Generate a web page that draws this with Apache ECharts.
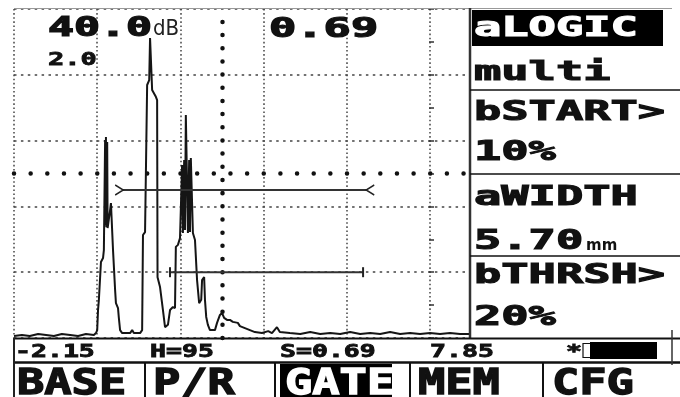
<!DOCTYPE html>
<html><head><meta charset="utf-8">
<script src="https://cdn.jsdelivr.net/npm/echarts@6/dist/echarts.min.js"></script>
<style>html,body{margin:0;padding:0;background:#fff}#c{width:680px;height:397px}</style>
</head><body><div id="c"></div>
<script>
// ---- data (x: % of screen width, amplitude: % full screen height) ----
const tracePos = [0,1.9,3.8,5.8,7.7,9.6,11.5,13.5,15.4,17.3,19.2,19.7,20.0,20.2,20.4,20.9,21.4,21.6,21.9,22.0,22.1,22.2,22.4,22.5,22.6,23.1,23.3,23.6,23.8,24.3,24.5,25.0,25.2,25.5,26.0,27.9,28.4,28.8,30.3,30.8,31.0,31.5,31.7,32.0,32.5,32.7,32.9,33.2,34.1,34.4,34.5,35.1,35.8,36.3,37.0,37.5,38.2,38.7,38.9,39.4,39.9,40.4,40.6,40.9,41.1,41.3,41.6,41.8,42.1,42.3,42.5,42.8,43.0,43.5,44.0,44.5,45.0,45.2,45.7,45.9,46.2,46.6,47.1,48.3,48.8,49.5,50.0,50.5,51.2,51.9,52.6,53.8,54.3,55.5,56.7,57.9,59.6,61.1,62.0,63.2,63.9,66.3,68.8,71.2,73.6,76.0,78.4,80.8,83.2,85.6,88.0,90.4,92.8,95.2,97.6,100.0,102.4,104.8,107.2,109.6];
const traceAmp = [0.6,0.9,0.6,1.2,0.9,0.6,1.2,0.9,0.6,1.2,0.9,1.5,2.4,8.5,11.6,23.1,24.3,26.7,60.2,34.3,61.1,33.7,59.6,33.4,34.3,38.9,41.0,40.4,26.7,14.6,10.6,9.1,6.1,2.4,1.5,1.5,2.4,1.5,1.5,2.4,31.3,32.2,32.2,76.9,78.4,91.2,91.2,75.4,73.3,72.3,18.5,15.5,8.5,3.3,4.0,8.5,9.4,9.1,27.7,28.3,30.4,52.6,31.9,54.1,32.8,67.8,68.4,31.9,54.1,32.2,54.7,54.7,31.9,29.8,17.6,10.6,11.6,17.6,18.5,11.6,6.4,4.0,2.4,2.4,4.6,7.0,7.6,6.1,5.5,5.5,4.9,4.6,3.6,3.0,2.4,1.8,1.5,2.1,1.5,3.3,1.8,1.5,1.2,1.8,1.2,1.5,1.2,1.8,1.2,1.5,1.2,1.8,1.2,1.5,1.2,1.5,1.2,1.5,1.2,1.2];
const gateAPos = [26.0, 84.9];
const gateALevel = 45;
const gateBPos = [37.5, 83.9];
const gateBLevel = 20;
const xMax = 109.6;
const centerPos = 50;
const centerAmp = 50;

// ---- text ----
const gainText = '40.0';
const gainUnit = 'dB';
const stepText = '2.0';
const readingText = '0.69';
const panelLabels = ['aLOGIC', 'multi', 'bSTART>', '10%', 'aWIDTH', '5.70', 'bTHRSH>', '20%'];
const widthUnit = 'mm';
const statusLabels = ['-2.15', 'H=95', 'S=0.69', '7.85', '*'];
const menuLabels = ['BASE', 'P/R', 'GATE', 'MEM', 'CFG'];

// ---- layout ----
const FONT = '"DejaVu Sans Mono"';
function T(text, left, base, fs, sx, fill, sw) {
  const f = fill || '#111';
  return {
    type: 'text', x: left, y: base - 0.32 * fs, scaleX: sx, z: 100, silent: true,
    style: { text: text, font: 'bold ' + fs + 'px ' + FONT, fill: f, stroke: f, lineWidth: sw == null ? 0.9 : sw,
      textAlign: 'left', align: 'left', textVerticalAlign: 'middle', verticalAlign: 'middle' }
  };
}
function L(x1, y1, x2, y2, w, c) {
  return { type: 'line', z: 90, silent: true, shape: { x1: x1, y1: y1, x2: x2, y2: y2 }, style: { stroke: c || '#111', lineWidth: w } };
}
function R(x, y, w, h, fill, z) {
  return { type: 'rect', z: z || 95, silent: true, shape: { x: x, y: y, width: w, height: h }, style: { fill: fill } };
}

const panelBase = [38, 82, 122, 162, 207, 251, 285, 327];
const statusLeft = [15, 150, 280, 430, 566];
const menuLeft = [17, 153, 285, 418, 552];

const graphics = [];
// frame lines
graphics.push(L(14, 8.5, 672, 8.5, 1, '#999'));
graphics.push(L(470, 8, 470, 338, 2.5, '#333'));
graphics.push(L(14, 338.5, 680, 338.5, 2, '#111'));
graphics.push(L(14, 362.5, 680, 362.5, 2.5, '#111'));
graphics.push(L(14, 338, 14, 397, 2, '#222'));
graphics.push(L(672, 330, 672, 365, 1.5, '#333'));
[90, 174, 256].forEach(y => graphics.push(L(470, y, 680, y, 1.5, '#111')));
[145, 275, 410, 543].forEach(x => graphics.push(L(x, 362, x, 397, 2, '#111')));
// inverted boxes
graphics.push(R(472, 10, 191, 36, '#000'));
graphics.push(R(280, 364, 112, 33, '#000'));
// battery
graphics.push({ type: 'rect', z: 95, silent: true, shape: { x: 583, y: 343.5, width: 8, height: 14 }, style: { fill: '#fff', stroke: '#111', lineWidth: 1.2 } });
graphics.push(R(590, 342, 67, 17, '#000'));
// header texts
graphics.push(T(gainText, 48, 38, 26, 1.66, '#111', 1.2));
graphics.push({ type: 'text', x: 153, y: 29, z: 100, silent: true, style: { text: gainUnit, font: '22px "DejaVu Sans Condensed"', fill: '#222', textAlign: 'left', align: 'left', textVerticalAlign: 'middle', verticalAlign: 'middle' } });
graphics.push(T(stepText, 48, 66, 18, 1.5, '#111', 0.8));
graphics.push(T(readingText, 269, 39, 27, 1.68, '#111', 1.2));
// right panel
panelLabels.forEach((t, i) => graphics.push(T(t, 474, panelBase[i], 27, 1.68, i === 0 ? '#fff' : '#111', 1.1)));
graphics.push({ type: 'text', x: 586, y: 246, z: 100, silent: true, style: { text: widthUnit, font: 'bold 15px "DejaVu Sans"', fill: '#111', textAlign: 'left', align: 'left', textVerticalAlign: 'middle', verticalAlign: 'middle' } });
// status row
statusLabels.forEach((t, i) => graphics.push(T(t, statusLeft[i], 358, 17, 1.56, '#111', 0.8)));
// menu row
menuLabels.forEach((t, i) => graphics.push(T(t, menuLeft[i], 396, 36, 1.26, i === 2 ? '#fff' : '#111', 1.4)));

const chart = echarts.init(document.getElementById('c'), null, { renderer: 'canvas' });
const hidden = { axisLine: { show: false }, axisTick: { show: false }, axisLabel: { show: false } };
chart.setOption({
  animation: false,
  backgroundColor: '#fff',
  grid: { left: 14, top: 9, width: 456, height: 329 },
  xAxis: [Object.assign({ type: 'value', min: 0, max: xMax, interval: 20,
    splitLine: { show: true, lineStyle: { color: '#444', width: 1.5, type: [1.6, 2.5] } } }, hidden)],
  yAxis: [
    Object.assign({ type: 'value', min: 0, max: 100, interval: 20,
      splitLine: { show: true, lineStyle: { color: '#444', width: 1.5, type: [2.5, 4.4] } } }, hidden),
    { type: 'value', min: 0, max: 100, interval: 10, position: 'right', offset: -41,
      axisLine: { show: false }, axisLabel: { show: false }, splitLine: { show: false },
      axisTick: { show: true, inside: false, length: 5, lineStyle: { color: '#333', width: 1.5 } } }
  ],
  graphic: { elements: graphics },
  series: [
    {
      type: 'line', name: 'A-scan', z: 5, symbol: 'none', clip: true,
      data: tracePos.map((x, i) => [x, traceAmp[i]]),
      lineStyle: { color: '#151515', width: 2 },
      markLine: {
        silent: true, symbol: 'none', label: { show: false },
        data: [
          { xAxis: centerPos, lineStyle: { color: '#111', width: 4.5, type: [0.01, 13.16], cap: 'round' } },
          { yAxis: centerAmp, lineStyle: { color: '#111', width: 4.5, type: [0.01, 16.64], cap: 'round' } }
        ]
      }
    },
    {
      type: 'line', name: 'gate a', z: 6, silent: true,
      data: [
        { value: [gateAPos[0], gateALevel], symbol: 'path://M0,0 L8,5 L0,10', symbolSize: [8, 10], symbolOffset: [-3, 0] },
        { value: [gateAPos[1], gateALevel], symbol: 'path://M8,0 L0,5 L8,10', symbolSize: [8, 10], symbolOffset: [3, 0] }
      ],
      itemStyle: { color: 'rgba(0,0,0,0)', borderColor: '#222', borderWidth: 1.5 },
      lineStyle: { color: '#333', width: 2 }
    },
    {
      type: 'line', name: 'gate b', z: 6, silent: true,
      data: [[gateBPos[0], gateBLevel], [gateBPos[1], gateBLevel]],
      symbol: 'rect', symbolSize: [2, 10],
      itemStyle: { color: '#222' },
      lineStyle: { color: '#333', width: 2 }
    }
  ]
});
</script></body></html>
